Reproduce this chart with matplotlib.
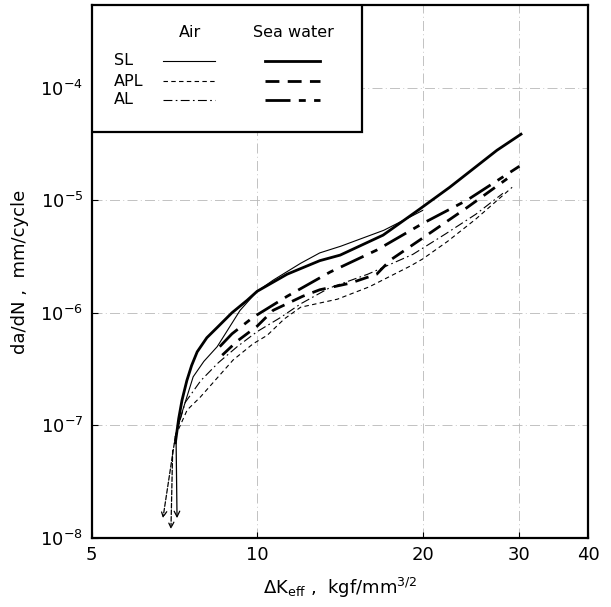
import matplotlib
matplotlib.use('Agg')
import matplotlib.pyplot as plt
from matplotlib.patches import Rectangle

# ---- data (dK_eff in kgf/mm^3/2, da/dN in mm/cycle)
sl_air_x = [7.1, 7.3, 7.65, 8.0, 8.46, 9.31, 10.0, 10.7, 12.0, 13.0, 14.2, 17.0, 19.2, 20.0]
sl_air_y = [8e-8, 1.3e-7, 2.7e-7, 3.7e-7, 5.0e-7, 1.05e-6, 1.55e-6, 1.95e-6, 2.75e-6, 3.4e-6, 3.9e-6, 5.4e-6, 7.3e-6, 8.1e-6]

sl_sea_x = [7.1, 7.2, 7.3, 7.45, 7.6, 7.78, 8.1, 8.46, 9.0, 9.59, 10.0, 11.34, 13.0, 14.16, 16.95, 19.6, 22.4, 27.3, 30.2]
sl_sea_y = [7e-8, 1.15e-7, 1.67e-7, 2.5e-7, 3.4e-7, 4.5e-7, 6.0e-7, 7.4e-7, 1.0e-6, 1.29e-6, 1.55e-6, 2.2e-6, 2.9e-6, 3.25e-6, 4.89e-6, 8.1e-6, 1.3e-5, 2.77e-5, 3.85e-5]

apl_air_x = [7.1, 7.46, 7.88, 9.04, 9.83, 10.43, 11.2, 12.0, 14.0, 16.0, 19.0, 20.0, 22.2, 25.0, 29.1]
apl_air_y = [8e-8, 1.37e-7, 1.78e-7, 3.8e-7, 5.3e-7, 6.3e-7, 8.8e-7, 1.12e-6, 1.32e-6, 1.7e-6, 2.6e-6, 3.0e-6, 4.3e-6, 6.8e-6, 1.3e-5]

apl_sea_x = [8.64, 9.2, 10.0, 10.69, 12.1, 13.0, 14.76, 16.5, 17.46, 20.0, 24.1, 28.5]
apl_sea_y = [4.2e-7, 5.6e-7, 7.6e-7, 1.05e-6, 1.4e-6, 1.6e-6, 1.83e-6, 2.2e-6, 2.93e-6, 4.6e-6, 8.6e-6, 1.55e-5]

al_air_x = [7.1, 7.4, 7.9, 8.5, 9.2, 10.0, 11.0, 12.0, 13.5, 15.9, 19.2, 22.0, 25.0, 28.0]
al_air_y = [8e-8, 1.6e-7, 2.5e-7, 3.6e-7, 5.0e-7, 6.8e-7, 9.0e-7, 1.2e-6, 1.65e-6, 2.2e-6, 3.3e-6, 5.0e-6, 7.5e-6, 1.15e-5]

al_sea_x = [8.55, 9.0, 9.83, 11.34, 13.58, 16.5, 20.0, 24.1, 30.0]
al_sea_y = [5.0e-7, 6.5e-7, 9.1e-7, 1.4e-6, 2.3e-6, 3.6e-6, 6.2e-6, 1.0e-5, 2.0e-5]

# arrows going down below the threshold (start -> tip)
arrow_x0 = [7.1, 7.02, 7.12]
arrow_y0 = [8e-8, 6e-8, 8e-8]
arrow_x1 = [6.74, 6.97, 7.15]
arrow_y1 = [1.5e-8, 1.2e-8, 1.5e-8]
arrow_ls = ['--', '--', '-']

x_ticks = [5, 10, 20, 30, 40]
y_ticks = [1e-8, 1e-7, 1e-6, 1e-5, 1e-4]
y_labels = [r'$10^{-8}$', r'$10^{-7}$', r'$10^{-6}$', r'$10^{-5}$', r'$10^{-4}$']

# line styles
thin_dash = (0, (4, 3))
thick_dash = (0, (5, 3))
thin_dd = (0, (8, 3, 1.5, 3))
thick_dd = (0, (9, 3, 2.5, 3))

plt.rcParams['font.family'] = 'DejaVu Sans'
fig = plt.figure(figsize=(6.11, 6.07), dpi=100)
ax = fig.add_axes([0.150, 0.1137, 0.8125, 0.878])
ax.set_xscale('log')
ax.set_yscale('log')
ax.set_xlim(5, 40)
ax.set_ylim(1e-8, 5.4e-4)

# faint dash-dot grid
for xv in [10, 20, 30]:
    ax.axvline(xv, color='0.72', lw=0.6, ls=(0, (12, 4, 1, 4)), zorder=0)
for yv in [1e-7, 1e-6, 1e-5, 1e-4]:
    ax.axhline(yv, color='0.72', lw=0.6, ls=(0, (12, 4, 1, 4)), zorder=0)

ax.plot(sl_air_x, sl_air_y, color='k', lw=0.8, ls='-')
ax.plot(sl_sea_x, sl_sea_y, color='k', lw=2.0, ls='-')
ax.plot(apl_air_x, apl_air_y, color='k', lw=0.8, ls=thin_dash)
ax.plot(apl_sea_x, apl_sea_y, color='k', lw=2.0, ls=thick_dash)
ax.plot(al_air_x, al_air_y, color='k', lw=0.8, ls=thin_dd)
ax.plot(al_sea_x, al_sea_y, color='k', lw=2.0, ls=thick_dd)

for i in range(len(arrow_x0)):
    ax.annotate('', xy=(arrow_x1[i], arrow_y1[i]), xytext=(arrow_x0[i], arrow_y0[i]),
                arrowprops=dict(arrowstyle='->', color='k', lw=0.9,
                                linestyle=arrow_ls[i], shrinkA=0, shrinkB=0,
                                mutation_scale=10))

ax.set_xticks(x_ticks)
ax.set_xticklabels([str(v) for v in x_ticks])
ax.set_yticks(y_ticks)
ax.set_yticklabels(y_labels)
ax.minorticks_off()
ax.tick_params(direction='in', length=4, width=0.8, labelsize=13, pad=6)
for sp in ax.spines.values():
    sp.set_linewidth(1.6)

ax.set_xlabel(r'$\mathit{Δ}$K$_{\rm eff}$ ,  kgf/mm$^{3/2}$', fontsize=13, labelpad=8)
ax.set_ylabel('da/dN ,  mm/cycle', fontsize=13, labelpad=8)

# legend box drawn by hand in axes fraction
tr = ax.transAxes
ax.add_patch(Rectangle((0, 0.762), 0.545, 0.238, transform=tr, fill=True,
                       facecolor='white', edgecolor='k', lw=1.6, zorder=5))
ax.text(0.198, 0.949, 'Air', transform=tr, ha='center', va='center', fontsize=11.5, zorder=6)
ax.text(0.406, 0.949, 'Sea water', transform=tr, ha='center', va='center', fontsize=11.5, zorder=6)
rows = [('SL', 0.895, '-', '-'), ('APL', 0.857, thin_dash, thick_dash), ('AL', 0.822, thin_dd, thick_dd)]
for name, yy, ls_air, ls_sea in rows:
    ax.text(0.045, yy, name, transform=tr, ha='left', va='center', fontsize=11.5, zorder=6)
    ax.plot([0.144, 0.249], [yy, yy], transform=tr, color='k', lw=0.8, ls=ls_air, zorder=6)
    ax.plot([0.349, 0.460], [yy, yy], transform=tr, color='k', lw=2.0, ls=ls_sea, zorder=6)

fig.savefig('out.png', dpi=100)
